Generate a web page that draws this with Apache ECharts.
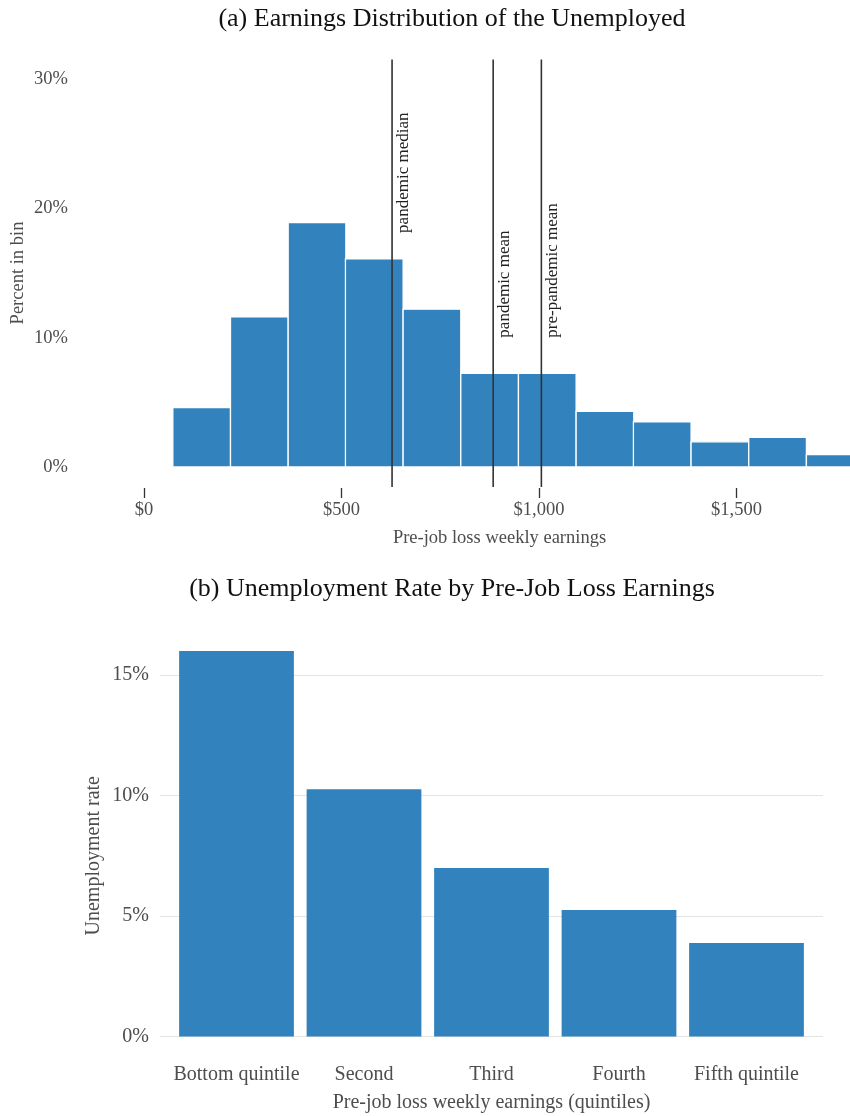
<!DOCTYPE html>
<html>
<head>
<meta charset="utf-8">
<script src="https://cdn.jsdelivr.net/npm/echarts@6/dist/echarts.min.js"></script>
<style>
  html, body { margin: 0; padding: 0; background: #fff; }
  #chart { width: 850px; height: 1116px; }
</style>
</head>
<body>
<div id="chart"></div>
<script>
// ---- Panel (a): earnings distribution of the unemployed ----
const binStarts  = [73, 219, 365, 510, 656, 802, 948, 1094, 1239, 1385, 1531, 1677];
const binWidth   = 146;
const binPercent = [4.6, 11.6, 18.9, 16.1, 12.2, 7.25, 7.25, 4.3, 3.5, 1.95, 2.3, 0.95];
const refValues  = [628, 884, 1006];
const refLabels  = ['pandemic median', 'pandemic mean', 'pre-pandemic mean'];
const earningsTicks = [0, 500, 1000, 1500];
const percentTicks  = [0, 10, 20, 30];

// ---- Panel (b): unemployment rate by earnings quintile ----
const quintiles = ['Bottom quintile', 'Second', 'Third', 'Fourth', 'Fifth quintile'];
const unempRate = [16.0, 10.26, 6.99, 5.25, 3.88];
const rateTicks = [0, 5, 10, 15];

const SERIF = "'Liberation Serif', 'Times New Roman', serif";
const BLUE = '#3182bd';
const TEXT = '#4d4d4d';
const EARN_MAX = 1800;

// where each reference-line caption starts (bottom end, in percent units)
const refLabelBase = [18.1, 10.0, 10.0];

const chart = echarts.init(document.getElementById('chart'), null, { renderer: 'canvas' });

const fmtDollar = v => '$' + v.toLocaleString('en-US');

const option = {
  backgroundColor: '#fff',
  animation: false,
  graphic: [
    { type: 'text', x: 452, y: 19,
      style: { text: '(a) Earnings Distribution of the Unemployed', align: 'center', verticalAlign: 'middle',
               font: '26px ' + SERIF, fill: '#111' } },
    { type: 'text', x: 452, y: 589,
      style: { text: '(b) Unemployment Rate by Pre-Job Loss Earnings', align: 'center', verticalAlign: 'middle',
               font: '26px ' + SERIF, fill: '#111' } }
  ],
  grid: [
    // histogram plot area
    { left: 144, width: 711, top: 79, height: 388, outerBoundsMode: 'none', containLabel: false },
    // quintile bar plot area
    { left: 160, width: 663, top: 675, height: 361.5, outerBoundsMode: 'none', containLabel: false },
    // strip below the histogram carrying its earnings axis
    { left: 144, width: 711, top: 480, height: 8, outerBoundsMode: 'none', containLabel: false }
  ],
  xAxis: [
    {
      gridIndex: 0, type: 'value', min: 0, max: EARN_MAX, show: false
    },
    {
      gridIndex: 1, type: 'value', min: 0.4, max: 5.6,
      name: 'Pre-job loss weekly earnings (quintiles)', nameLocation: 'middle', nameGap: 56,
      nameTextStyle: { fontFamily: SERIF, fontSize: 20, color: TEXT },
      axisLine: { show: false },
      axisTick: { show: false },
      axisLabel: { customValues: [1, 2, 3, 4, 5], formatter: v => quintiles[Math.round(v) - 1], margin: 28,
                   fontFamily: SERIF, fontSize: 20, color: TEXT },
      splitLine: { show: false }
    },
    {
      gridIndex: 2, type: 'value', min: 0, max: EARN_MAX,
      name: 'Pre-job loss weekly earnings', nameLocation: 'middle', nameGap: 41,
      nameTextStyle: { fontFamily: SERIF, fontSize: 18.5, color: TEXT },
      axisLine: { show: false },
      axisTick: { show: true, length: 10, lineStyle: { color: '#333', width: 1.3 }, customValues: earningsTicks },
      axisLabel: { customValues: earningsTicks, formatter: fmtDollar, margin: 13,
                   fontFamily: SERIF, fontSize: 18.5, color: TEXT },
      splitLine: { show: false }
    }
  ],
  yAxis: [
    {
      gridIndex: 0, type: 'value', min: 0, max: 30,
      name: 'Percent in bin', nameLocation: 'middle', nameGap: 116, nameMoveOverlap: false,
      nameTextStyle: { fontFamily: SERIF, fontSize: 18.5, color: TEXT },
      axisLine: { show: false }, axisTick: { show: false },
      axisLabel: { customValues: percentTicks, formatter: v => v + '%', margin: 76,
                   fontFamily: SERIF, fontSize: 18.5, color: TEXT },
      splitLine: { show: false }
    },
    {
      gridIndex: 1, type: 'value', min: 0, max: 15,
      name: 'Unemployment rate', nameLocation: 'middle', nameGap: 56, nameMoveOverlap: false,
      nameTextStyle: { fontFamily: SERIF, fontSize: 20, color: TEXT },
      axisLine: { show: false },
      axisTick: { show: false, customValues: rateTicks },
      axisLabel: { customValues: rateTicks, formatter: v => v + '%', margin: 11,
                   fontFamily: SERIF, fontSize: 20, color: TEXT },
      splitLine: { show: true, lineStyle: { color: '#e3e3e3', width: 1 } }
    },
    {
      gridIndex: 2, type: 'value', min: 0, max: 1, show: false
    }
  ],
  series: [
    {
      // histogram bins
      type: 'custom', xAxisIndex: 0, yAxisIndex: 0, clip: true,
      data: binStarts.map((s, i) => [s, s + binWidth, binPercent[i]]),
      encode: { x: [0, 1], y: 2 },
      renderItem: (params, api) => {
        const p0 = api.coord([api.value(0), 0]);
        const p1 = api.coord([api.value(1), api.value(2)]);
        return {
          type: 'rect',
          shape: { x: p0[0], y: p1[1], width: p1[0] - p0[0], height: p0[1] - p1[1] },
          style: { fill: BLUE, stroke: '#ffffff', lineWidth: 1.3 }
        };
      }
    },
    {
      // reference lines with rotated captions
      type: 'custom', xAxisIndex: 0, yAxisIndex: 0, clip: false, z: 5,
      data: refValues.map((v, i) => [v, i]),
      encode: { x: 0 },
      renderItem: (params, api) => {
        const v = api.value(0);
        const i = api.value(1);
        const top = api.coord([v, 31.5]);
        const bot = api.coord([v, -1.55]);
        const lab = api.coord([v, refLabelBase[i]]);
        return {
          type: 'group',
          children: [
            { type: 'line', shape: { x1: top[0], y1: top[1], x2: bot[0], y2: bot[1] },
              style: { stroke: '#333', lineWidth: 1.6 } },
            { type: 'text', x: lab[0] + 11, y: lab[1], rotation: Math.PI / 2,
              style: { text: refLabels[i], align: 'left', verticalAlign: 'middle',
                       font: '17px ' + SERIF, fill: '#222' } }
          ]
        };
      }
    },
    {
      // quintile bars
      type: 'custom', xAxisIndex: 1, yAxisIndex: 1, clip: false,
      data: unempRate.map((v, i) => [i + 1, v]),
      encode: { x: 0, y: 1 },
      renderItem: (params, api) => {
        const c = api.coord([api.value(0), api.value(1)]);
        const base = api.coord([api.value(0), 0]);
        const w = api.size([0.9, 0])[0];
        return {
          type: 'rect',
          shape: { x: c[0] - w / 2, y: c[1], width: w, height: base[1] - c[1] },
          style: { fill: BLUE }
        };
      }
    }
  ]
};

chart.setOption(option);
</script>
</body>
</html>
